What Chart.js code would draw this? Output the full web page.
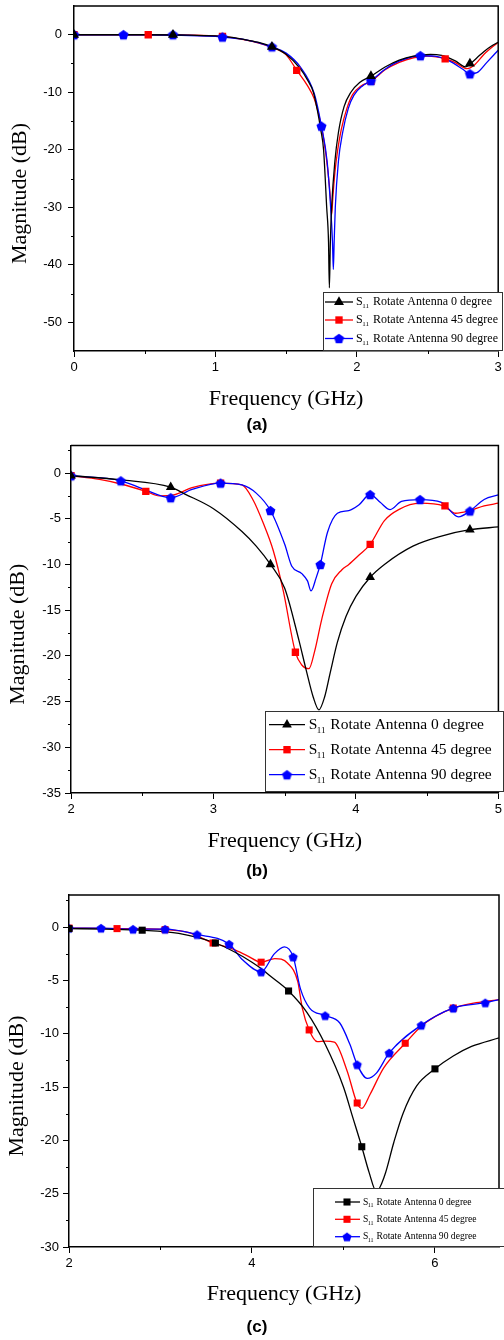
<!DOCTYPE html>
<html><head><meta charset="utf-8">
<script src="https://cdn.jsdelivr.net/npm/chart.js@4.4.1/dist/chart.umd.min.js"></script>
<style>
html,body{margin:0;padding:0;background:#fff;width:504px;height:1340px;overflow:hidden}
canvas{position:absolute;left:0}
</style></head><body>
<canvas id="ca" width="504" height="440" style="top:0px"></canvas>
<canvas id="cb" width="504" height="450" style="top:440px"></canvas>
<canvas id="cc" width="504" height="450" style="top:890px"></canvas>
<script>
// ---------- common text ----------
const seriesPrefix = 'S';
const seriesSub = '11';
const seriesLabels = ['Rotate Antenna 0 degree', 'Rotate Antenna 45 degree', 'Rotate Antenna 90 degree'];
const xTitle = 'Frequency (GHz)';
const yTitle = 'Magnitude (dB)';
const captions = ['(a)', '(b)', '(c)'];

// ---------- panel (a) ----------
const aTicksX = [0, 1, 2, 3];
const aMinorX = [0.5, 1.5, 2.5];
const aTicksY = [-50, -40, -30, -20, -10, 0];
const aMinorY = [-45, -35, -25, -15, -5];

const a0F  = [0, 0.5, 0.8, 1.0, 1.1, 1.2, 1.3, 1.4, 1.5, 1.6, 1.65, 1.693, 1.72, 1.745, 1.765, 1.787, 1.8, 1.806, 1.813, 1.822, 1.845, 1.87, 1.91, 1.958, 2.02, 2.1, 2.2, 2.3, 2.4, 2.52, 2.6, 2.7, 2.77, 2.8, 2.85, 2.9, 2.95, 3.0];
const a0DB = [0, 0, -0.05, -0.2, -0.4, -0.8, -1.3, -2.1, -3.4, -5.9, -7.8, -10, -13, -16.5, -20, -30, -36, -44, -36, -30, -22, -17, -12.5, -10, -8.3, -7.2, -5.6, -4.4, -3.7, -3.4, -3.6, -4.6, -5.6, -5.1, -4.0, -2.9, -2.0, -1.3];
const a0MF  = [0, 0.7, 1.4, 2.1, 2.8];
const a0MDB = [0, 0, -2.1, -7.2, -5.0];

const a45F  = [0, 0.5, 1.0, 1.2, 1.4, 1.5, 1.576, 1.65, 1.7, 1.75, 1.78, 1.805, 1.815, 1.822, 1.83, 1.845, 1.865, 1.89, 1.93, 1.97, 2.03, 2.1, 2.2, 2.3, 2.4, 2.5, 2.63, 2.7, 2.78, 2.83, 2.9, 3.0];
const a45DB = [0, 0, -0.2, -0.85, -2.2, -3.5, -6.2, -8.8, -11.2, -16, -20.5, -26, -29, -31.3, -28.5, -24, -20, -16.5, -12.8, -10.4, -8.9, -8.1, -6.1, -4.8, -4.0, -3.7, -4.2, -4.9, -5.9, -5.3, -3.4, -1.3];
const a45MF  = [0, 0.525, 1.05, 1.575, 2.1, 2.625];
const a45MDB = [0, 0, -0.3, -6.2, -8.1, -4.2];

const a90F  = [0, 0.5, 1.0, 1.05, 1.2, 1.4, 1.5, 1.6, 1.7, 1.75, 1.79, 1.815, 1.828, 1.834, 1.84, 1.848, 1.87, 1.9, 1.94, 1.98, 2.04, 2.1, 2.2, 2.3, 2.45, 2.55, 2.65, 2.75, 2.8, 2.85, 2.92, 3.0];
const a90DB = [0, 0, -0.3, -0.4, -0.8, -2.1, -3.2, -5.6, -10.3, -15.9, -22, -30, -36, -40.8, -36, -30, -22, -17, -12.8, -10.5, -8.9, -8.0, -6.0, -4.6, -3.65, -3.7, -4.5, -6.0, -6.8, -6.6, -4.8, -2.7];
const a90MF  = [0, 0.35, 0.7, 1.05, 1.4, 1.75, 2.1, 2.45, 2.8];
const a90MDB = [0, 0, 0, -0.4, -2.1, -15.9, -8.0, -3.65, -6.8];

// ---------- panel (b) ----------
const bTicksX = [2, 3, 4, 5];
const bMinorX = [2.5, 3.5, 4.5];
const bTicksY = [-35, -30, -25, -20, -15, -10, -5, 0];
const bMinorY = [-32.5, -27.5, -22.5, -17.5, -12.5, -7.5, -2.5, 2.5];

const b0F  = [2.0, 2.35, 2.7, 2.8, 3.0, 3.2, 3.3, 3.4, 3.5, 3.6, 3.65, 3.7, 3.74, 3.78, 3.82, 3.87, 3.93, 4.0, 4.1, 4.2, 4.4, 4.6, 4.8, 5.0];
const b0DB = [-0.3, -0.75, -1.55, -2.3, -3.9, -6.4, -8.0, -10.0, -12.6, -18.3, -21.5, -24.5, -25.9, -24.5, -21.8, -18.5, -15.7, -13.5, -11.4, -10.0, -8.0, -6.9, -6.2, -5.9];
const b0MF  = [2.0, 2.7, 3.4, 4.1, 4.8];
const b0MDB = [-0.3, -1.55, -10.0, -11.4, -6.2];

const b45F  = [2.0, 2.2, 2.35, 2.525, 2.62, 2.72, 2.85, 3.05, 3.2, 3.28, 3.35, 3.42, 3.49, 3.575, 3.62, 3.67, 3.71, 3.76, 3.83, 3.9, 3.95, 4.02, 4.1, 4.2, 4.3, 4.45, 4.615, 4.7, 4.8, 4.9, 5.0];
const b45DB = [-0.3, -0.7, -1.2, -2.0, -2.5, -2.4, -1.6, -1.1, -1.3, -3.0, -5.5, -8.5, -12.9, -19.6, -21.0, -21.4, -19.5, -16.0, -12.1, -10.6, -10.0, -9.0, -7.8, -5.2, -4.0, -3.3, -3.6, -4.4, -4.1, -3.6, -3.3];
const b45MF  = [2.0, 2.525, 3.05, 3.575, 4.1, 4.625];
const b45MDB = [-0.3, -2.0, -1.1, -19.6, -7.8, -3.6];

const b90F  = [2.0, 2.35, 2.5, 2.7, 2.85, 3.05, 3.2, 3.3, 3.4, 3.5, 3.55, 3.62, 3.66, 3.685, 3.72, 3.75, 3.8, 3.87, 3.95, 4.02, 4.1, 4.17, 4.24, 4.32, 4.45, 4.6, 4.72, 4.8, 4.9, 5.0];
const b90DB = [-0.3, -0.85, -1.7, -2.7, -1.8, -1.1, -1.3, -2.2, -4.1, -7.8, -10.2, -11.0, -11.8, -12.9, -11.5, -10.0, -6.5, -4.4, -4.1, -3.5, -2.35, -3.2, -4.0, -3.1, -2.9, -3.2, -4.8, -4.15, -2.9, -2.4];
const b90MF  = [2.0, 2.35, 2.7, 3.05, 3.4, 3.75, 4.1, 4.45, 4.8];
const b90MDB = [-0.3, -0.85, -2.7, -1.1, -4.1, -10.0, -2.35, -2.9, -4.15];

// ---------- panel (c) ----------
const cTicksX = [2, 4, 6];
const cMinorX = [3, 5];
const cTicksY = [-30, -25, -20, -15, -10, -5, 0];
const cMinorY = [-27.5, -22.5, -17.5, -12.5, -7.5, -2.5, 2.5];

const c0F  = [2.0, 2.4, 2.8, 3.2, 3.6, 3.8, 4.0, 4.1, 4.2, 4.4, 4.6, 4.8, 5.0, 5.1, 5.2, 5.28, 5.36, 5.45, 5.55, 5.65, 5.8, 6.0, 6.2, 6.4, 6.7];
const c0DB = [-0.15, -0.2, -0.3, -0.6, -1.5, -2.3, -3.3, -3.9, -4.6, -6.0, -8.0, -11.0, -15.0, -17.8, -20.6, -23.0, -24.8, -23.3, -20.2, -17.5, -14.9, -13.3, -12.1, -11.2, -10.4];
const c0MF  = [2.0, 2.8, 3.6, 4.4, 5.2, 6.0];
const c0MDB = [-0.15, -0.3, -1.5, -6.0, -20.6, -13.3];

const c45F  = [2.0, 2.525, 3.05, 3.3, 3.575, 3.8, 3.95, 4.1, 4.25, 4.39, 4.5, 4.55, 4.625, 4.715, 4.8, 4.9, 5.04, 5.148, 5.2, 5.29, 5.44, 5.675, 5.85, 6.0, 6.2, 6.45, 6.7];
const c45DB = [-0.1, -0.15, -0.25, -0.5, -1.5, -2.1, -2.7, -3.3, -2.96, -3.4, -5.1, -7.6, -9.65, -10.75, -10.7, -10.8, -13.5, -16.5, -17.0, -15.7, -13.2, -10.9, -9.3, -8.4, -7.6, -7.1, -6.8];
const c45MF  = [2.0, 2.525, 3.05, 3.575, 4.1, 4.625, 5.15, 5.675, 6.2];
const c45MDB = [-0.1, -0.15, -0.25, -1.5, -3.3, -9.65, -16.5, -10.9, -7.6];

const c90F  = [2.0, 2.35, 2.7, 3.05, 3.4, 3.75, 3.9, 4.1, 4.246, 4.354, 4.45, 4.53, 4.63, 4.8, 4.96, 5.07, 5.15, 5.26, 5.36, 5.5, 5.85, 6.2, 6.55, 6.7];
const c90DB = [-0.1, -0.1, -0.2, -0.2, -0.7, -1.6, -3.1, -4.2, -2.5, -1.87, -2.8, -5.8, -7.6, -8.3, -9.0, -11.0, -12.9, -14.2, -13.7, -11.8, -9.2, -7.6, -7.1, -6.8];
const c90MF  = [2.0, 2.35, 2.7, 3.05, 3.4, 3.75, 4.1, 4.45, 4.8, 5.15, 5.5, 5.85, 6.2, 6.55];
const c90MDB = [-0.1, -0.1, -0.2, -0.2, -0.7, -1.6, -4.2, -2.8, -8.3, -12.9, -11.8, -9.2, -7.6, -7.1];

// ---------- drawing ----------
const SERIF = '"Liberation Serif", "Times New Roman", serif';
const SANS = '"Liberation Sans", Arial, sans-serif';
const zip = (xs, ys) => xs.map((x, i) => ({x: x, y: ys[i]}));

function pentagon(color, r) {
  const s = Math.ceil(2 * r + 2);
  const c = document.createElement('canvas');
  c.width = s; c.height = s;
  const g = c.getContext('2d');
  g.fillStyle = color;
  g.beginPath();
  for (let i = 0; i < 5; i++) {
    const ang = -Math.PI / 2 + i * 2 * Math.PI / 5;
    const px = s / 2 + r * Math.cos(ang), py = s / 2 + r * Math.sin(ang) + 0.5;
    if (i) g.lineTo(px, py); else g.moveTo(px, py);
  }
  g.closePath(); g.fill();
  return c;
}

const decor = {
  id: 'decor',
  afterDraw(chart) {
    const P = chart.options.plugins.decor;
    const {ctx, chartArea: a, scales} = chart;
    ctx.save();
    // frame (top + right)
    ctx.strokeStyle = '#000'; ctx.lineWidth = 1.5;
    ctx.beginPath(); ctx.moveTo(a.left, a.top); ctx.lineTo(a.right, a.top); ctx.lineTo(a.right, a.bottom); ctx.stroke();
    // minor ticks
    ctx.lineWidth = 1;
    P.xMinor.forEach(v => { const x = Math.round(scales.x.getPixelForValue(v)) + 0.5; ctx.beginPath(); ctx.moveTo(x, a.bottom); ctx.lineTo(x, a.bottom + P.minorLen); ctx.stroke(); });
    P.yMinor.forEach(v => { const y = Math.round(scales.y.getPixelForValue(v)) + 0.5; ctx.beginPath(); ctx.moveTo(a.left, y); ctx.lineTo(a.left - P.minorLen, y); ctx.stroke(); });
    // titles
    ctx.fillStyle = '#000';
    ctx.textAlign = 'center'; ctx.textBaseline = 'middle';
    ctx.font = P.titleSize + 'px ' + SERIF;
    ctx.fillText(xTitle, (a.left + a.right) / 2, P.xTitleY);
    ctx.save();
    ctx.translate(P.yTitleX, (a.top + a.bottom) / 2 + 15);
    ctx.rotate(-Math.PI / 2);
    ctx.fillText(yTitle, 0, 0);
    ctx.restore();
    ctx.font = 'bold 17px ' + SANS;
    ctx.fillText(P.caption, 257, P.capY);
    // legend
    const L = P.legend;
    ctx.fillStyle = '#fff';
    ctx.fillRect(L.x1, L.y1, L.x2 - L.x1, L.y2 - L.y1);
    ctx.strokeStyle = '#333'; ctx.lineWidth = 1;
    ctx.strokeRect(L.x1 + 0.5, L.y1 + 0.5, L.x2 - L.x1 - 1, L.y2 - L.y1 - 1);
    P.series.forEach((s, i) => {
      const y = L.rows[i];
      ctx.strokeStyle = s.color; ctx.lineWidth = 1.3;
      ctx.beginPath(); ctx.moveTo(L.lx1, y); ctx.lineTo(L.lx2, y); ctx.stroke();
      ctx.fillStyle = s.color;
      Chart.helpers.drawPoint(ctx, {pointStyle: s.style, radius: s.r, rotation: 0, borderWidth: 0}, L.mx, y);
      ctx.fillStyle = '#000';
      ctx.textAlign = 'left'; ctx.textBaseline = 'middle';
      ctx.font = L.font + 'px ' + SERIF;
      ctx.fillText(seriesPrefix, L.tx, y);
      const wS = ctx.measureText(seriesPrefix).width;
      ctx.font = L.sub + 'px ' + SERIF;
      ctx.fillText(seriesSub, L.tx + wS - 0.5, y + L.font * 0.38);
      ctx.font = L.font + 'px ' + SERIF;
      ctx.fillText(seriesLabels[i], L.tx + L.restDX, y);
    });
    ctx.restore();
  }
};

function makeChart(id, P) {
  const datasets = [];
  P.series.forEach((s, i) => {
    datasets.push({
      data: zip(s.f, s.db), borderColor: s.color, borderWidth: 1.3, pointRadius: 0,
      cubicInterpolationMode: 'monotone', fill: false, order: s.lineOrder
    });
    datasets.push({
      data: zip(s.mf, s.mdb), showLine: false, pointStyle: s.style, pointRadius: s.r,
      pointBackgroundColor: s.color, pointBorderColor: s.color, pointBorderWidth: 0, order: s.markOrder,
      clip: 0
    });
  });
  const tickFont = {family: SANS, size: 13};
  return new Chart(document.getElementById(id), {
    type: 'line',
    data: {datasets: datasets},
    options: {
      responsive: false, animation: false, devicePixelRatio: 1,
      layout: {padding: {left: 0, top: P.area.top, right: 504 - P.area.right, bottom: 0}},
      plugins: {legend: {display: false}, tooltip: {enabled: false}, decor: P},
      scales: {
        x: {
          type: 'linear', position: 'bottom', min: P.xMin, max: P.xMax,
          afterBuildTicks: sc => { sc.ticks = P.xTicks.map(v => ({value: v})); },
          afterFit: sc => { sc.height = P.H - P.area.bottom; sc.paddingLeft = 0; sc.paddingRight = 0; },
          ticks: {color: '#000', font: tickFont, padding: 3, maxRotation: 0, autoSkip: false, callback: v => String(v)},
          grid: {drawOnChartArea: false, drawTicks: true, tickLength: 6, color: '#000', lineWidth: 1},
          border: {display: true, color: '#000', width: 1.5}
        },
        y: {
          type: 'linear', position: 'left', min: P.yMin, max: P.yMax,
          afterBuildTicks: sc => { sc.ticks = P.yTicks.map(v => ({value: v})); },
          afterFit: sc => { sc.width = P.area.left; sc.paddingTop = 0; sc.paddingBottom = 0; },
          ticks: {color: '#000', font: tickFont, padding: P.yPad, autoSkip: false, callback: v => String(v)},
          grid: {drawOnChartArea: false, drawTicks: true, tickLength: 6, color: '#000', lineWidth: 1},
          border: {display: true, color: '#000', width: 1.5}
        }
      }
    },
    plugins: [decor]
  });
}

const BLACK = '#000000', RED = '#ff0000', BLUE = '#0000ff';

makeChart('ca', {
  H: 440, area: {left: 74, top: 6, right: 501, bottom: 351},
  xMin: 0, xMax: 3, yMin: -55, yMax: 5, xTicks: aTicksX, yTicks: aTicksY, xMinor: aMinorX, yMinor: aMinorY,
  minorLen: 3, yPad: 6, titleSize: 22, xTitleY: 399, yTitleX: 20, caption: captions[0], capY: 425,
  series: [
    {f: a0F, db: a0DB, mf: a0MF, mdb: a0MDB, color: BLACK, style: 'triangle', r: 5.8, lineOrder: 3, markOrder: 0},
    {f: a45F, db: a45DB, mf: a45MF, mdb: a45MDB, color: RED, style: 'rect', r: 5.2, lineOrder: 5, markOrder: 2},
    {f: a90F, db: a90DB, mf: a90MF, mdb: a90MDB, color: BLUE, style: pentagon(BLUE, 5.3), r: 5.3, lineOrder: 4, markOrder: 1}
  ],
  legend: {x1: 323, y1: 292, x2: 503, y2: 351, rows: [302, 320, 338.5], lx1: 325, lx2: 353, mx: 339, tx: 356, restDX: 17, font: 12, sub: 7}
});

makeChart('cb', {
  H: 450, area: {left: 71, top: 5, right: 500, bottom: 353},
  xMin: 2, xMax: 5, yMin: -35, yMax: 3, xTicks: bTicksX, yTicks: bTicksY, xMinor: bMinorX, yMinor: bMinorY,
  minorLen: 3, yPad: 4, titleSize: 22, xTitleY: 401, yTitleX: 18, caption: captions[1], capY: 431,
  series: [
    {f: b0F, db: b0DB, mf: b0MF, mdb: b0MDB, color: BLACK, style: 'triangle', r: 5.6, lineOrder: 3, markOrder: 0},
    {f: b45F, db: b45DB, mf: b45MF, mdb: b45MDB, color: RED, style: 'rect', r: 5.2, lineOrder: 5, markOrder: 2},
    {f: b90F, db: b90DB, mf: b90MF, mdb: b90MDB, color: BLUE, style: pentagon(BLUE, 5.2), r: 5.2, lineOrder: 4, markOrder: 1}
  ],
  legend: {x1: 265, y1: 271, x2: 504, y2: 352, rows: [284.7, 309.7, 334.7], lx1: 269, lx2: 305, mx: 287, tx: 308.7, restDX: 21.6, font: 15.5, sub: 9}
});

makeChart('cc', {
  H: 450, area: {left: 69, top: 3, right: 504, bottom: 357},
  xMin: 2, xMax: 6.7, yMin: -30, yMax: 3, xTicks: cTicksX, yTicks: cTicksY, xMinor: cMinorX, yMinor: cMinorY,
  minorLen: 3, yPad: 4, titleSize: 22, xTitleY: 404, yTitleX: 17, caption: captions[2], capY: 437,
  series: [
    {f: c0F, db: c0DB, mf: c0MF, mdb: c0MDB, color: BLACK, style: 'rect', r: 5.0, lineOrder: 3, markOrder: 0},
    {f: c45F, db: c45DB, mf: c45MF, mdb: c45MDB, color: RED, style: 'rect', r: 5.0, lineOrder: 5, markOrder: 2},
    {f: c90F, db: c90DB, mf: c90MF, mdb: c90MDB, color: BLUE, style: pentagon(BLUE, 4.8), r: 4.8, lineOrder: 4, markOrder: 1}
  ],
  legend: {x1: 313, y1: 298, x2: 505, y2: 357, rows: [312, 329.3, 346.7], lx1: 335, lx2: 360, mx: 347, tx: 363, restDX: 13.5, font: 9.6, sub: 6}
});
</script>
</body></html>
